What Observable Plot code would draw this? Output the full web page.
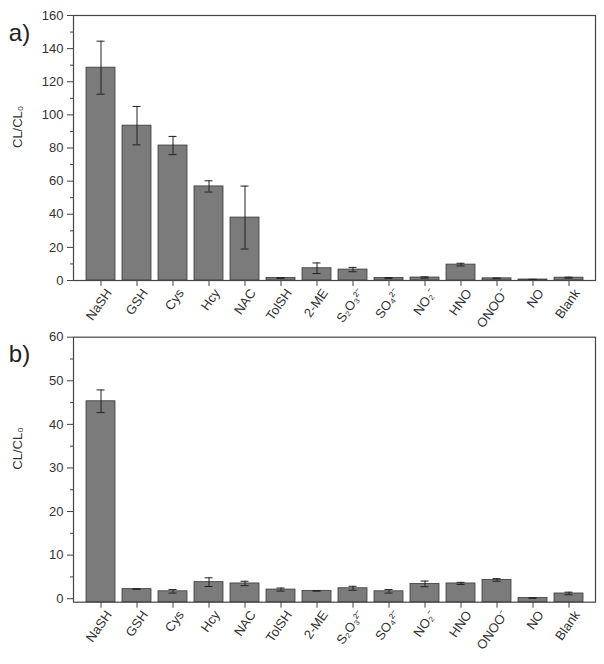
<!DOCTYPE html>
<html>
<head>
<meta charset="utf-8">
<script src="https://cdn.jsdelivr.net/npm/d3@7"></script>
<script src="https://cdn.jsdelivr.net/npm/@observablehq/plot@0.6"></script>
<style>
  html, body { margin: 0; padding: 0; background: #fff; }
  #chart svg { display: block; overflow: visible; }
</style>
</head>
<body>
<div id="chart"></div>
<script>
const categories = ["NaSH","GSH","Cys","Hcy","NAC","TolSH","2-ME","S₂O₃²⁻","SO₄²⁻","NO₂⁻","HNO","ONOO⁻","NO","Blank"];

// Panel a
const valuesA = [128.5, 93.5, 81.5, 56.8, 38.0, 1.5, 7.4, 6.6, 1.5, 1.8, 9.6, 1.3, 0.6, 1.7];
const errorsA = [16.0, 11.6, 5.5, 3.4, 19.0, 0.2, 3.2, 1.3, 0.2, 0.4, 0.8, 0.2, 0.1, 0.3];
const yTicksA = [0, 20, 40, 60, 80, 100, 120, 140, 160];
const yMinorA = [10, 30, 50, 70, 90, 110, 130, 150];

// Panel b
const valuesB = [45.3, 2.2, 1.7, 3.8, 3.5, 2.1, 1.8, 2.4, 1.7, 3.4, 3.5, 4.3, 0.15, 1.2];
const errorsB = [2.6, 0.05, 0.4, 1.0, 0.5, 0.35, 0.05, 0.45, 0.4, 0.65, 0.25, 0.3, 0.05, 0.3];
const yTicksB = [0, 10, 20, 30, 40, 50, 60];
const yMinorB = [5, 15, 25, 35, 45, 55];

const font = "'Liberation Sans', Arial, sans-serif";
const barFill = "#7b7b7b";
const dark = "#333333";

function panel({values, errors, yDomain, base, yTicks, yMinor, tag, height, marginTop, marginBottom}) {
  const data = categories.map((c, i) => ({cat: c, v: values[i], e: errors[i]}));
  return Plot.plot({
    width: 604,
    height,
    marginLeft: 73,
    marginRight: 9,
    marginTop,
    marginBottom,
    style: {fontFamily: font, fontSize: "12px", color: dark, background: "#fff"},
    x: {domain: categories, paddingInner: 0.2, paddingOuter: 0.35, label: null},
    y: {domain: yDomain, label: null},
    marks: [
      Plot.barY(data, {x: "cat", y1: () => base, y2: "v", fill: barFill, stroke: "#3a3a3a", strokeWidth: 0.8}),
      Plot.ruleX(data, {x: "cat", y1: d => d.v - d.e, y2: d => d.v + d.e, stroke: "#222", strokeWidth: 1}),
      Plot.tickY(data, {x: "cat", y: d => d.v + d.e, stroke: "#222", strokeWidth: 1, insetLeft: 10.5, insetRight: 10.5}),
      Plot.tickY(data, {x: "cat", y: d => d.v - d.e, stroke: "#222", strokeWidth: 1, insetLeft: 10.5, insetRight: 10.5}),
      Plot.frame({stroke: "#444", strokeWidth: 1.2}),
      Plot.axisY({ticks: yTicks, tickSize: 6, tickPadding: 4, label: null, fontSize: 13, stroke: "#444"}),
      Plot.axisY({ticks: yMinor, tickSize: 3, text: null, label: null, stroke: "#444"}),
      Plot.axisX({tickSize: 6, text: null, label: null, stroke: "#444"}),
      Plot.axisX({tickSize: 0, tickRotate: -55, tickPadding: 10, dx: 8, label: null, fontSize: 13, fill: dark}),
      Plot.text(["CL/CL₀"], {frameAnchor: "left", dx: -56, rotate: -90, fontSize: 13, fill: dark}),
      Plot.text([tag], {frameAnchor: "top-left", dx: -54, dy: 8, fontSize: 24, fill: "#222", textAnchor: "middle"})
    ]
  });
}

const chart = document.getElementById("chart");
chart.append(panel({
  values: valuesA, errors: errorsA, yDomain: [0, 160], base: 0,
  yTicks: yTicksA, yMinor: yMinorA, tag: "a)",
  height: 326, marginTop: 15, marginBottom: 46
}));
chart.append(panel({
  values: valuesB, errors: errorsB, yDomain: [-0.8, 60], base: -0.8,
  yTicks: yTicksB, yMinor: yMinorB, tag: "b)",
  height: 338, marginTop: 10.7, marginBottom: 62.3
}));
</script>
</body>
</html>
